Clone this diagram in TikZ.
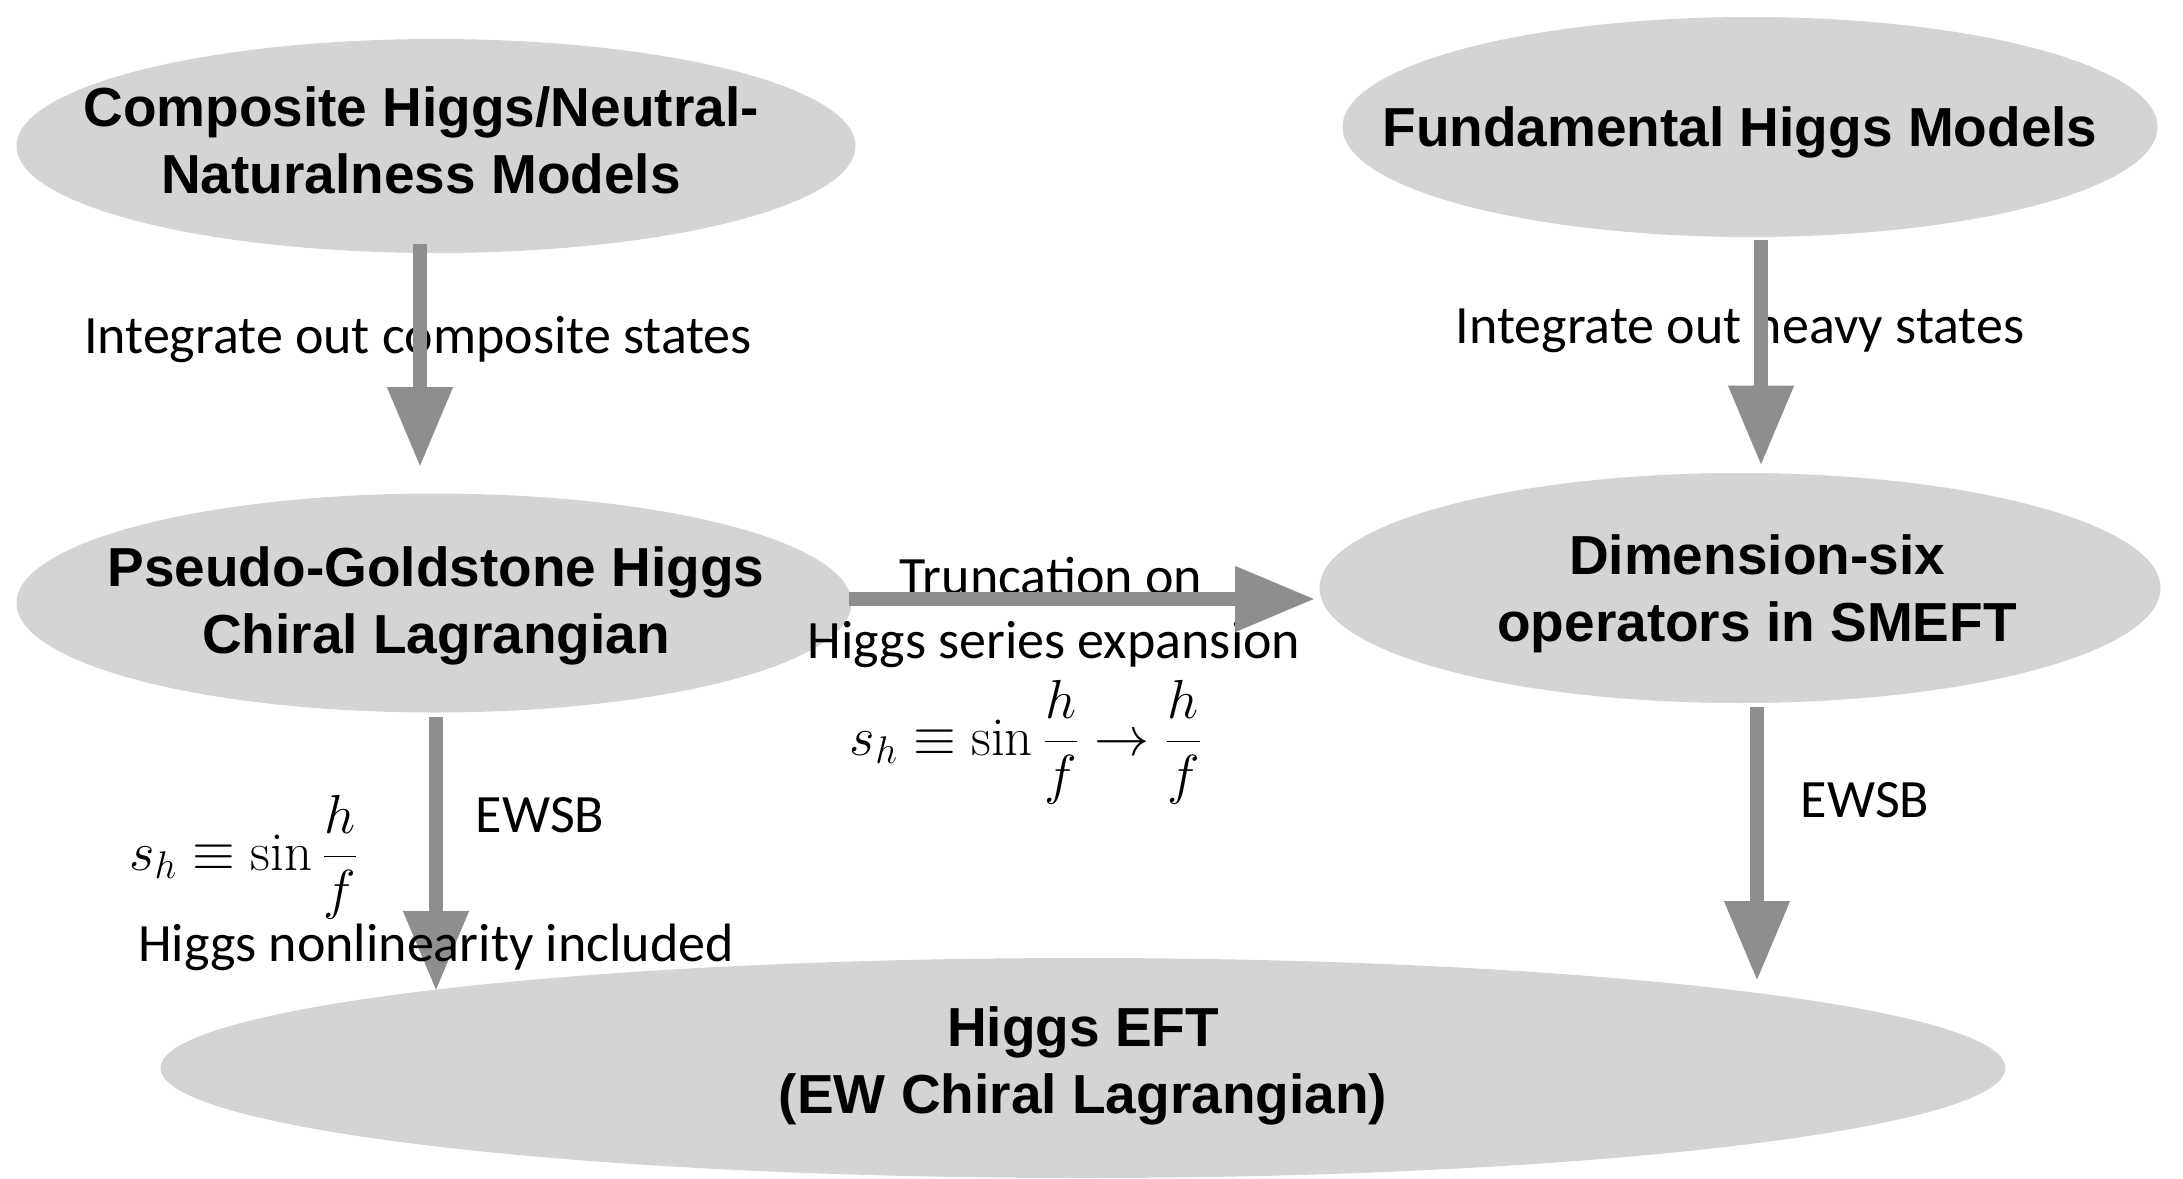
\RequirePackage{fix-cm}
\documentclass[tikz,border=0pt]{standalone}
\usepackage{fontspec}
\newfontfamily\hsans{Liberation Sans}
\newfontfamily\gsans{Carlito}
\usetikzlibrary{shapes.geometric,arrows.meta,calc}
\definecolor{ellgray}{HTML}{D4D4D4}
\definecolor{arrgray}{HTML}{8E8E8E}
\begin{document}
\begin{tikzpicture}[x=0.5pt,y=-0.5pt,
  blob/.style={ellipse, fill=ellgray, draw=none, inner sep=0pt},
  title/.style={font=\hsans\bfseries\fontsize{27.5}{33.5}\selectfont, align=center, inner sep=0pt},
  lab/.style={font=\gsans\fontsize{27}{32}\selectfont, inner sep=0pt},
  mth/.style={font=\fontsize{27.5}{32}\selectfont, inner sep=0pt},
  flow/.style={draw=arrgray, line width=7pt, -{Triangle[length=40pt,width=31pt]}}]
\useasboundingbox (0,0) rectangle (2183,1178);
% ellipses
\node[blob, minimum width=419.5pt, minimum height=107pt] (A) at (436,146) {};
\node[blob, minimum width=407.5pt, minimum height=110pt] (B) at (1750,127) {};
\node[blob, minimum width=417.5pt, minimum height=109.5pt] (C) at (434,603) {};
\node[blob, minimum width=420.5pt, minimum height=115pt] (D) at (1740,588) {};
\node[blob, minimum width=922.5pt, minimum height=110pt] (E) at (1083,1068) {};
% titles
\node[title] (At) at (421,140) {Composite Higgs/Neutral-\\Naturalness Models};
\node[title] (Bt) at (1740,132) {Fundamental Higgs Models};
\node[title] (Ct) at (436,606) {Pseudo-Goldstone Higgs\\Chiral Lagrangian};
\node[title] (Dt) at (1757,594) {Dimension-six\\operators in SMEFT};
\node[title] (Et) at (1083,1066) {Higgs EFT\\(EW Chiral Lagrangian)};
% labels under arrows
\node[lab] (l1) at (418,340) {Integrate out composite states};
\node[lab] (l2) at (1740,329) {Integrate out heavy states};
\node[lab] (l3) at (1051,576) {Truncation on};
\node[lab] (l4) at (1054,645) {Higgs series expansion};
\node[mth] (m1) at (1026,742) {$\displaystyle s_h\equiv\sin\frac{h}{f}\to\frac{h}{f}$};
\node[mth] (m2) at (244,857) {$\displaystyle s_h\equiv\sin\frac{h}{f}$};
\node[lab] (l5) at (540,815) {EWSB};
\node[lab] (l7) at (1865,800) {EWSB};
% arrows
\draw[flow] ($(A.south)+(-16,-9)$) -- ($(C.north)+(-14,-26)$);
\draw[flow] ($(B.south)+(11,3)$) -- ($(D.north)+(21,-7)$);
\draw[flow] ($(C.east)+(-3,-4)$) -- ($(D.west)+(-4,11)$);
\draw[flow] ($(C.south)+(2,4)$) -- ($(E.center)+(-647,-77)$);
\draw[flow] ($(D.south)+(17,4)$) -- ($(E.center)+(674,-87)$);
\node[lab] (l6) at (436,947) {Higgs nonlinearity included};
\end{tikzpicture}
\end{document}
